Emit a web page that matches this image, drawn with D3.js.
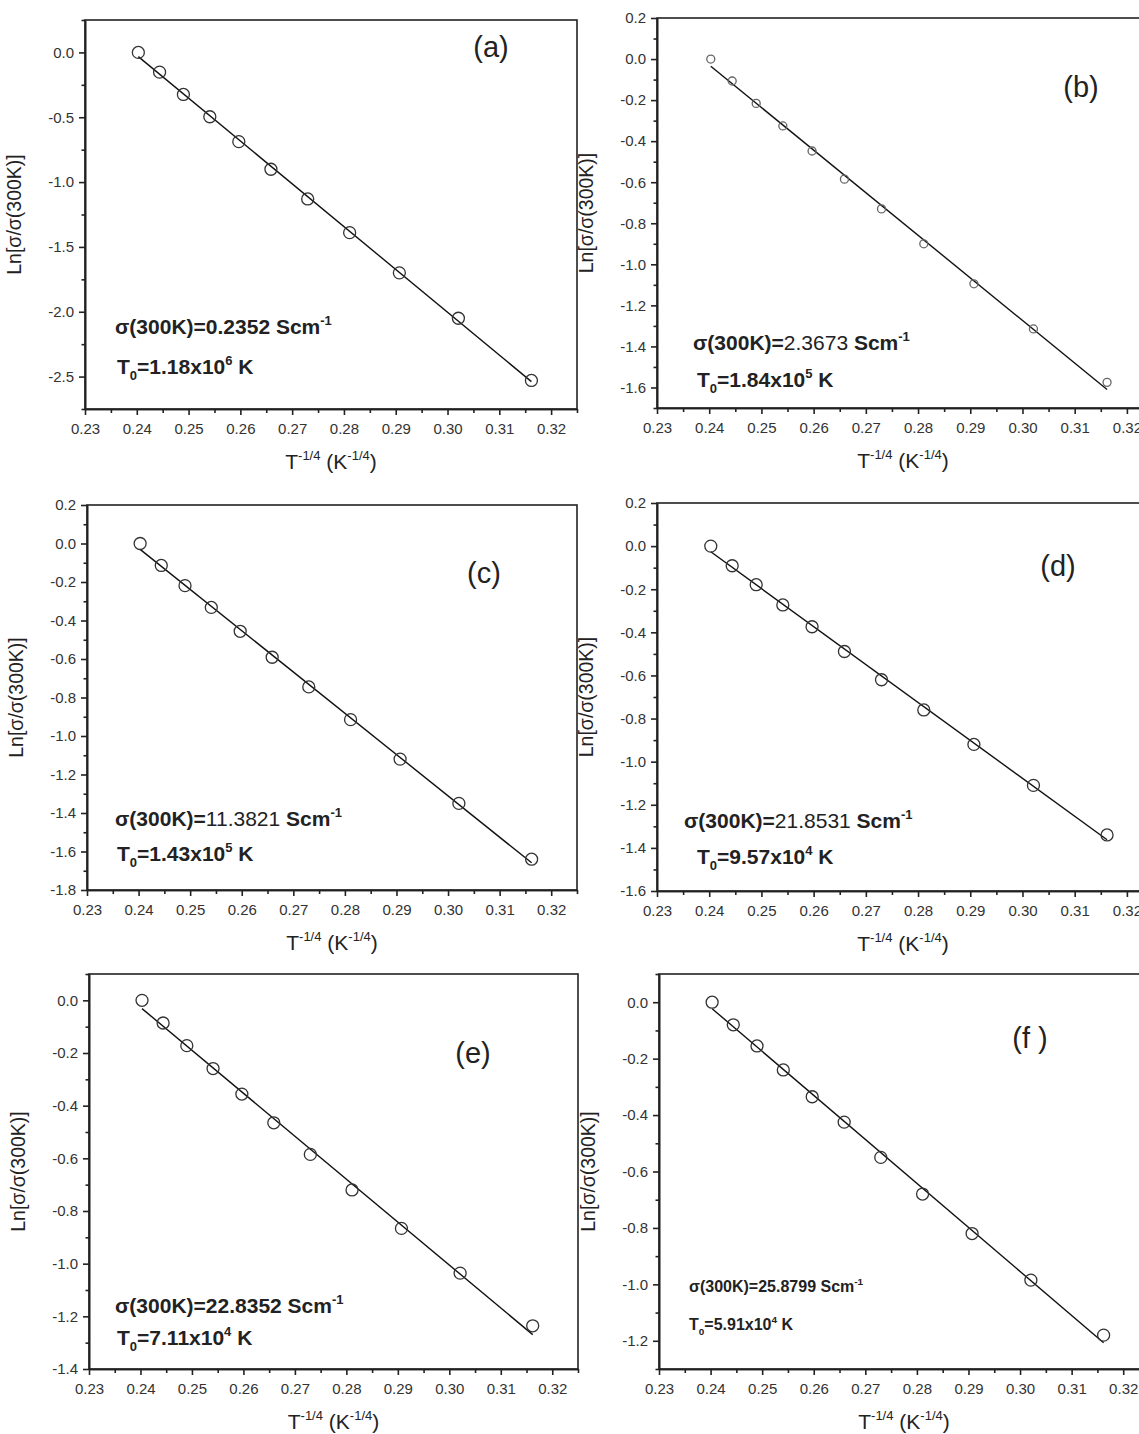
<!DOCTYPE html>
<html>
<head>
<meta charset="utf-8">
<script src="https://cdn.jsdelivr.net/npm/d3@7"></script>
<style>
  body { margin: 0; background: #fff; }
  text { font-family: Arial, "Liberation Sans", sans-serif; fill: #222; }
</style>
</head>
<body>
<div id="chart"></div>
<script>
// T^-1/4 values (shared by all six panels)
const tInv = [0.2403, 0.2444, 0.2490, 0.2541, 0.2597, 0.2659, 0.2730, 0.2811, 0.2907, 0.3021, 0.3162];

// Ln[sigma/sigma(300K)]
const lnA = [0, -0.152, -0.324, -0.496, -0.688, -0.901, -1.13, -1.39, -1.70, -2.05, -2.53];
const lnB = [0, -0.107, -0.216, -0.326, -0.448, -0.585, -0.73, -0.90, -1.095, -1.315, -1.575];
const lnC = [0, -0.114, -0.219, -0.332, -0.456, -0.591, -0.745, -0.915, -1.12, -1.35, -1.64];
const lnD = [0, -0.091, -0.179, -0.273, -0.374, -0.489, -0.62, -0.76, -0.92, -1.11, -1.34];
const lnE = [0, -0.086, -0.172, -0.259, -0.356, -0.465, -0.585, -0.72, -0.866, -1.036, -1.236];
const lnF = [0, -0.08, -0.155, -0.24, -0.335, -0.425, -0.55, -0.68, -0.82, -0.985, -1.18];

// tick labels
const xTicks = [0.23, 0.24, 0.25, 0.26, 0.27, 0.28, 0.29, 0.30, 0.31, 0.32];
const yTicksA = [0, -0.5, -1.0, -1.5, -2.0, -2.5];
const yTicksB = [0.2, 0, -0.2, -0.4, -0.6, -0.8, -1.0, -1.2, -1.4, -1.6];
const yTicksC = [0.2, 0, -0.2, -0.4, -0.6, -0.8, -1.0, -1.2, -1.4, -1.6, -1.8];
const yTicksD = [0.2, 0, -0.2, -0.4, -0.6, -0.8, -1.0, -1.2, -1.4, -1.6];
const yTicksE = [0, -0.2, -0.4, -0.6, -0.8, -1.0, -1.2, -1.4];
const yTicksF = [0, -0.2, -0.4, -0.6, -0.8, -1.0, -1.2];

// annotations
const panelNames = ["(a)", "(b)", "(c)", "(d)", "(e)", "(f )"];
const sigma300 = ["0.2352", "2.3673", "11.3821", "21.8531", "22.8352", "25.8799"];
const t0Mant = ["1.18", "1.84", "1.43", "9.57", "7.11", "5.91"];
const t0Exp = ["6", "5", "5", "4", "4", "4"];

const W = 1139, H = 1434;
const svg = d3.select("#chart").append("svg")
    .attr("width", W)
    .attr("height", H);

// layout of each panel
const panels = [
  {y: lnA, ticks: yTicksA, dom: [-2.75, 0.25], minor: 0.25, l: 85,  r: 577,  t: 20,  b: 409,
   mk: 6, mkc: "#333", sig: [115, 334], t0: [117, 374], lab: [491, 57], fs: 21, numNormal: false},
  {y: lnB, ticks: yTicksB, dom: [-1.7, 0.2],   minor: 0.1,  l: 657, r: 1153, t: 18,  b: 408,
   mk: 4, mkc: "#666", sig: [693, 350], t0: [697, 387], lab: [1081, 97], fs: 21, numNormal: true},
  {y: lnC, ticks: yTicksC, dom: [-1.8, 0.2],   minor: 0.1,  l: 87,  r: 577,  t: 505, b: 890,
   mk: 6, mkc: "#333", sig: [115, 826], t0: [117, 861], lab: [484, 583], fs: 21, numNormal: true},
  {y: lnD, ticks: yTicksD, dom: [-1.6, 0.2],   minor: 0.1,  l: 657, r: 1153, t: 503, b: 891,
   mk: 6, mkc: "#333", sig: [684, 828], t0: [697, 864], lab: [1058, 576], fs: 21, numNormal: true},
  {y: lnE, ticks: yTicksE, dom: [-1.4, 0.1],   minor: 0.1,  l: 89,  r: 578,  t: 974, b: 1369,
   mk: 6, mkc: "#333", sig: [115, 1313], t0: [117, 1345], lab: [473, 1063], fs: 21, numNormal: false},
  {y: lnF, ticks: yTicksF, dom: [-1.3, 0.1],   minor: 0.1,  l: 659, r: 1149, t: 974, b: 1369,
   mk: 6, mkc: "#333", sig: [689, 1292], t0: [689, 1330], lab: [1030, 1048], fs: 16, numNormal: false}
];

const fmtY = d => d3.format(".1f")(d).replace("\u2212", "-");

// text made of normal / superscript / subscript / regular-weight pieces
function richText(g, x, y, parts, size, weight) {
  const t = g.append("text")
      .attr("x", x).attr("y", y)
      .style("font-size", size + "px")
      .style("font-weight", weight);
  let shift = 0;
  parts.forEach(([s, k]) => {
    let target = 0, fs = size;
    if (k === "sup") { target = -0.45 * size; fs = 0.62 * size; }
    if (k === "sub") { target = 0.3 * size; fs = 0.62 * size; }
    const ts = t.append("tspan").text(s).attr("dy", target - shift).style("font-size", fs + "px");
    if (k === "n") ts.style("font-weight", "normal");
    shift = target;
  });
  return t;
}

panels.forEach((p, i) => {
  const x = d3.scaleLinear().domain([0.23, 0.325]).range([p.l, p.r]);
  const y = d3.scaleLinear().domain(p.dom).range([p.b, p.t]);
  const g = svg.append("g");

  // minor ticks
  const xMinor = d3.range(0.235, 0.325, 0.01);
  const yMinor = d3.range(p.dom[0], p.dom[1] + 1e-9, p.minor)
      .filter(v => !p.ticks.some(t => Math.abs(t - v) < 1e-6));

  g.append("g")
      .attr("transform", `translate(0,${p.b})`)
      .call(d3.axisBottom(x).tickValues(xMinor).tickSize(4).tickSizeOuter(0).tickFormat(""));
  g.append("g")
      .attr("class", "xaxis")
      .attr("transform", `translate(0,${p.b})`)
      .call(d3.axisBottom(x).tickValues(xTicks).tickSize(6).tickSizeOuter(0)
        .tickPadding(8).tickFormat(d3.format(".2f")));

  g.append("g")
      .attr("transform", `translate(${p.l},0)`)
      .call(d3.axisLeft(y).tickValues(yMinor).tickSize(3.5).tickSizeOuter(0).tickFormat(""));
  g.append("g")
      .attr("class", "yaxis")
      .attr("transform", `translate(${p.l},0)`)
      .call(d3.axisLeft(y).tickValues(p.ticks).tickSize(6).tickSizeOuter(0)
        .tickPadding(5).tickFormat(fmtY));

  g.selectAll(".tick text").style("font-size", "15px").style("fill", "#333");
  g.selectAll(".domain, .tick line").style("stroke", "#222").style("stroke-width", 1.6);

  // frame
  g.append("rect")
      .attr("x", p.l).attr("y", p.t)
      .attr("width", p.r - p.l).attr("height", p.b - p.t)
      .style("fill", "none").style("stroke", "#222").style("stroke-width", 1.6);

  // linear fit from the points
  const n = tInv.length;
  const mx = d3.mean(tInv), my = d3.mean(p.y);
  const slope = d3.sum(tInv, (v, k) => (v - mx) * (p.y[k] - my)) / d3.sum(tInv, v => (v - mx) ** 2);
  const icpt = my - slope * mx;
  const ends = [tInv[0], tInv[n - 1]];
  g.append("path")
      .datum(ends)
      .attr("d", d3.line().x(d => x(d)).y(d => y(icpt + slope * d)))
      .style("stroke", "#111").style("stroke-width", 1.4).style("fill", "none");

  // points
  g.selectAll("circle")
    .data(tInv.map((v, k) => [v, p.y[k]]))
    .join("circle")
      .attr("cx", d => x(d[0]))
      .attr("cy", d => y(d[1]))
      .attr("r", p.mk)
      .style("fill", "none")
      .style("stroke", p.mkc)
      .style("stroke-width", 1.3);

  // axis titles
  const cx = (p.l + Math.min(p.r, p.l + 492)) / 2;
  richText(g, cx, p.b + 60, [["T", ""], ["-1/4", "sup"], [" (K", ""], ["-1/4", "sup"], [")", ""]], 21, "normal")
      .attr("text-anchor", "middle");
  g.append("text")
      .attr("transform", `translate(${p.l - 64},${(p.t + p.b) / 2}) rotate(-90)`)
      .attr("text-anchor", "middle")
      .style("font-size", "19.5px")
      .text("Ln[σ/σ(300K)]");

  // panel label
  g.append("text")
      .attr("x", p.lab[0]).attr("y", p.lab[1])
      .attr("text-anchor", "middle")
      .style("font-size", "29px")
      .text(panelNames[i]);

  // annotations
  richText(g, p.sig[0], p.sig[1],
    [["σ(300K)=", ""], [sigma300[i], p.numNormal ? "n" : ""], [" Scm", ""], ["-1", "sup"]], p.fs, "bold");
  richText(g, p.t0[0], p.t0[1],
    [["T", ""], ["0", "sub"], ["=" + t0Mant[i] + "x10", ""], [t0Exp[i], "sup"], [" K", ""]], p.fs, "bold");
});
</script>
</body>
</html>
